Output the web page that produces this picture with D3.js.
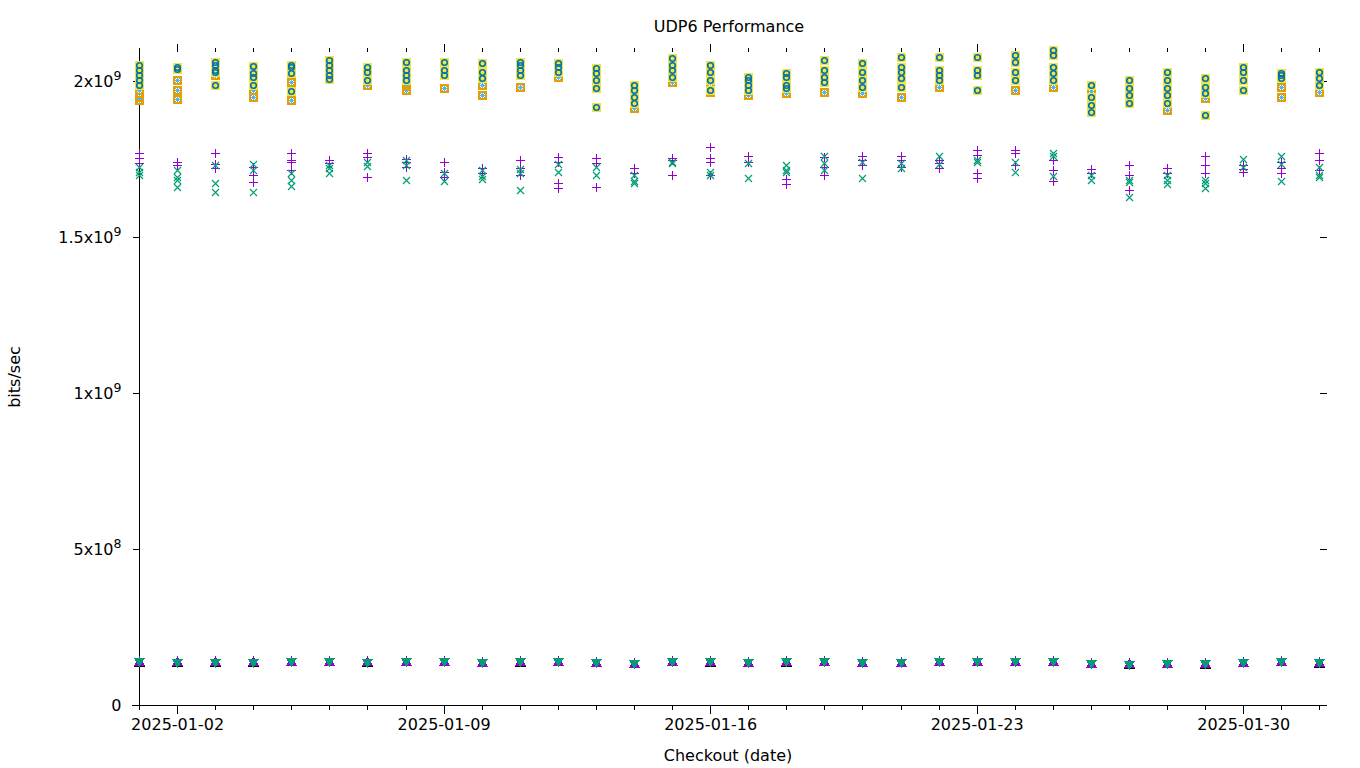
<!DOCTYPE html>
<html><head><meta charset="utf-8">
<script src="https://cdn.jsdelivr.net/npm/d3@7"></script>
<style>
body{margin:0;background:#fff;}
svg{display:block;font-family:"DejaVu Sans",sans-serif;}
</style></head><body>
<svg id="chart" width="1360" height="768"></svg>
<script>
const dates = ["2025-01-01","2025-01-02","2025-01-03","2025-01-04","2025-01-05","2025-01-06","2025-01-07","2025-01-08",
"2025-01-09","2025-01-10","2025-01-11","2025-01-12","2025-01-13","2025-01-14","2025-01-15","2025-01-16",
"2025-01-17","2025-01-18","2025-01-19","2025-01-20","2025-01-21","2025-01-22","2025-01-23","2025-01-24",
"2025-01-25","2025-01-26","2025-01-27","2025-01-28","2025-01-29","2025-01-30","2025-01-31","2025-02-01"];
const majorTicks = ["2025-01-02","2025-01-09","2025-01-16","2025-01-23","2025-01-30"];
const yTicks = [0, 5e8, 1e9, 1.5e9, 2e9];
const yTickLabels = [["0",""],["5x10","8"],["1x10","9"],["1.5x10","9"],["2x10","9"]];

// top group: yellow filled square + blue open circle (Gbit/s)
const topA = [[2.051,2.035,2.019,2.003,1.987],[2.045,2.038],[2.061,2.051,2.035,2.029,1.987],[2.048,2.026,2.013,1.987],
[2.051,2.045,2.026,1.968],[2.067,2.051,2.035,2.019,2.006],[2.045,2.029,2.003],[2.061,2.035,2.019,2.003],
[2.061,2.035,2.019],[2.058,2.029,2.010],[2.061,2.051,2.035,2.019],[2.058,2.045,2.029],
[2.042,2.026,2.003,1.978,1.917],[1.987,1.971,1.949,1.929],[2.074,2.051,2.035,2.013],[2.051,2.029,2.003,1.971],
[2.013,2.003,1.987,1.971],[2.026,2.013,1.987,1.978],[2.067,2.035,2.013,1.997],[2.058,2.029,2.003,1.981],
[2.077,2.045,2.029,2.010,1.981],[2.077,2.035,2.019,2.003],[2.077,2.035,2.019,1.971],[2.083,2.061,2.029,2.003],
[2.099,2.083,2.045,2.026,2.003],[1.987,1.949,1.923,1.901],[2.003,1.978,1.955,1.929],[2.029,2.003,1.978,1.955,1.929],
[2.010,1.981,1.961,1.891],[2.045,2.029,2.003,1.971],[2.019,2.026,2.010],[2.029,2.010,1.987]];
// top group: orange open square + light blue asterisk (Gbit/s)
const topB = [[1.971,1.949,1.939],[2.003,1.971,1.942],[2.019],[1.971,1.949],[1.997,1.939],[2.045],[1.987],[1.987,1.971],
[1.978],[1.987,1.955],[1.981],[2.013],[1.997],[1.913],[1.997,2.067],[1.981,1.965],
[1.955],[1.961],[1.965],[1.961],[1.949],[1.981],[2.029],[1.971],
[1.981],[1.968,1.929],[1.942],[1.907,1.945],[1.945],[2.035],[1.981,1.949],[1.965]];
// middle group: purple plus (Gbit/s)
const midPlus = [[1.769,1.753,1.737],[1.740,1.731],[1.769,1.734,1.721],[1.724,1.699,1.676],[1.769,1.747,1.740,1.715],
[1.747,1.737],[1.769,1.756,1.692],[1.750,1.740,1.724],[1.740,1.708,1.692],[1.721,1.705],[1.747,1.721,1.699],
[1.756,1.740,1.673,1.657],[1.753,1.737,1.660],[1.721,1.705],[1.753,1.747,1.699],[1.788,1.753,1.740,1.699],
[1.760,1.740],[1.686,1.670],[1.756,1.724,1.699],[1.760,1.747,1.731],[1.760,1.747,1.724],[1.747,1.737,1.721],
[1.779,1.763,1.705,1.689],[1.779,1.769,1.731],[1.747,1.715,1.679],[1.718,1.705],[1.731,1.699,1.651],
[1.721,1.705],[1.760,1.731,1.705],[1.731,1.718,1.708],[1.740,1.721,1.705],[1.769,1.747,1.715]];
// middle group: green cross (Gbit/s)
const midCross = [[1.724,1.708,1.699],[1.715,1.692,1.683,1.660],[1.731,1.673,1.644],[1.734,1.715,1.644],[1.705,1.683,1.663],
[1.731,1.721,1.705],[1.740,1.728],[1.747,1.731,1.683],[1.705,1.679],[1.715,1.695,1.686],[1.718,1.705,1.651],
[1.734,1.708],[1.724,1.699],[1.699,1.679,1.673],[1.740,1.737],[1.708,1.699],[1.737,1.689],[1.731,1.715,1.708],
[1.760,1.737,1.715],[1.740,1.689],[1.737,1.721],[1.760,1.734],[1.747,1.740],[1.740,1.708],[1.769,1.760,1.695],
[1.699,1.683],[1.683,1.676,1.628],[1.699,1.683,1.670],[1.683,1.673,1.657],[1.750,1.724],[1.760,1.734,1.679],[1.724,1.699,1.692]];
// bottom group (Gbit/s)
const lowBlack = [0.139,0.139,0.139,0.139,0.140,0.140,0.139,0.140,0.140,0.138,0.139,0.141,0.137,0.134,0.141,0.139,
0.138,0.139,0.141,0.138,0.138,0.141,0.141,0.141,0.141,0.135,0.133,0.134,0.133,0.138,0.141,0.136];
const lowPurple = [0.141,0.141,0.141,0.141,0.141,0.141,0.140,0.141,0.141,0.139,0.141,0.142,0.138,0.135,0.142,0.140,
0.139,0.140,0.142,0.139,0.139,0.142,0.142,0.142,0.142,0.136,0.134,0.135,0.135,0.139,0.142,0.137];
const lowGreen = [0.140,0.139,0.139,0.139,0.141,0.141,0.139,0.141,0.140,0.139,0.140,0.141,0.138,0.134,0.141,0.140,
0.138,0.140,0.141,0.139,0.139,0.141,0.141,0.141,0.142,0.135,0.133,0.134,0.134,0.139,0.141,0.138];

const GIGA = 1e9;
const parse = d3.utcParse("%Y-%m-%d");
const svg = d3.select("#chart");
const L = 139, R = 1327, B = 705, T = 48;
const FS = 16;
const x = d3.scaleUtc().domain([parse("2025-01-01"), new Date(Date.UTC(2025,1,1,4,50))]).range([L, R]);
const y = d3.scaleLinear().domain([0, 2.1e9]).range([B, 49.8]);

const allDays = dates.map(parse);
const majors = majorTicks.map(parse);
const g = svg.append("g").attr("shape-rendering","crispEdges");
g.append("g").attr("transform",`translate(0,${B+0.5})`)
  .call(d3.axisBottom(x).tickValues(allDays).tickSize(4).tickFormat("").tickSizeOuter(0))
  .call(s=>s.select(".domain").remove());
g.append("g").attr("transform",`translate(0,${B+0.5})`)
  .call(d3.axisBottom(x).tickValues(majors).tickSize(8).tickPadding(5).tickFormat(d3.utcFormat("%Y-%m-%d")).tickSizeOuter(0))
  .call(s=>s.select(".domain").remove())
  .selectAll("text").attr("font-size",FS).attr("font-family","DejaVu Sans").attr("fill","#000");
g.append("g").attr("transform",`translate(0,52)`)
  .call(d3.axisTop(x).tickValues(allDays).tickSize(4).tickFormat("").tickSizeOuter(0))
  .call(s=>s.select(".domain").remove());
g.append("g").attr("transform",`translate(0,52)`)
  .call(d3.axisTop(x).tickValues(majors).tickSize(8).tickFormat("").tickSizeOuter(0))
  .call(s=>s.select(".domain").remove());
g.append("line").attr("x1",132).attr("x2",R).attr("y1",B+0.5).attr("y2",B+0.5).attr("stroke","#000");
g.append("line").attr("x1",L+0.5).attr("x2",L+0.5).attr("y1",T).attr("y2",B).attr("stroke","#000");
const yl = g.append("g").attr("transform",`translate(${L+0.5},0)`)
  .call(d3.axisLeft(y).tickValues(yTicks).tickSize(7).tickPadding(11).tickFormat(""))
  .call(s=>s.select(".domain").remove());
yl.selectAll(".tick text").each(function(d,i){
  const t = d3.select(this).attr("font-size",FS).attr("font-family","DejaVu Sans").attr("fill","#000").attr("dy","0.35em");
  t.append("tspan").text(yTickLabels[i][0]);
  if (yTickLabels[i][1]) t.append("tspan").attr("font-size",12.5).attr("dy","-0.6em").text(yTickLabels[i][1]);
});
g.append("g").attr("transform",`translate(${R},0)`)
  .call(d3.axisLeft(y).tickValues(yTicks).tickSize(7).tickFormat(""))
  .call(s=>s.select(".domain").remove());

svg.append("text").attr("x",729).attr("y",32).attr("text-anchor","middle").attr("font-size",FS).text("UDP6 Performance");
svg.append("text").attr("x",728).attr("y",761).attr("text-anchor","middle").attr("font-size",FS).text("Checkout (date)");
svg.append("text").attr("transform","translate(20,377) rotate(-90)").attr("text-anchor","middle").attr("font-size",FS).text("bits/sec");

const pts = svg.append("g").attr("shape-rendering","crispEdges");
function flat(arr){ const out=[]; arr.forEach((vals,i)=>vals.forEach(v=>out.push({d:allDays[i], v:v*GIGA}))); return out; }
function single(arr){ return arr.map((v,i)=>({d:allDays[i], v:v*GIGA})); }
const X = p=>Math.round(x(p.d))+0.5, Y = p=>Math.round(y(p.v))+0.5;

function plus(data,color){
  pts.append("g").selectAll("path").data(data).join("path")
    .attr("d",p=>`M${X(p)-4.5},${Y(p)}H${X(p)+4.5}M${X(p)},${Y(p)-4.5}V${Y(p)+4.5}`)
    .attr("stroke",color).attr("stroke-width",1.5).attr("fill","none");
}
function cross(data,color){
  pts.append("g").selectAll("path").data(data).join("path")
    .attr("d",p=>`M${X(p)-3.5},${Y(p)-3.5}L${X(p)+3.5},${Y(p)+3.5}M${X(p)-3.5},${Y(p)+3.5}L${X(p)+3.5},${Y(p)-3.5}`)
    .attr("stroke",color).attr("stroke-width",1.2).attr("fill","none").attr("shape-rendering","auto");
}
function star(data,color){
  pts.append("g").selectAll("path").data(data).join("path")
    .attr("d",p=>`M${X(p)-3},${Y(p)}H${X(p)+3}M${X(p)},${Y(p)-3}V${Y(p)+3}M${X(p)-2.5},${Y(p)-2.5}L${X(p)+2.5},${Y(p)+2.5}M${X(p)-2.5},${Y(p)+2.5}L${X(p)+2.5},${Y(p)-2.5}`)
    .attr("stroke",color).attr("stroke-width",1).attr("fill","none");
}
function square(data,color,filled,s){
  pts.append("g").selectAll("rect").data(data).join("rect")
    .attr("x",p=>X(p)-s).attr("y",p=>Y(p)-s).attr("width",2*s).attr("height",2*s)
    .attr("fill",filled?color:"none").attr("stroke",color).attr("stroke-width",1.5);
}
function circle(data,color){
  pts.append("g").selectAll("circle").data(data).join("circle")
    .attr("cx",X).attr("cy",Y).attr("r",2.8)
    .attr("fill","none").attr("stroke",color).attr("stroke-width",1.6).attr("shape-rendering","auto");
}
function tri(data,color,filled,down){
  pts.append("g").selectAll("path").data(data).join("path")
    .attr("d",p=>{const cx=X(p), cy=Y(p); return down
      ? `M${cx-4.5},${cy-3}L${cx+4.5},${cy-3}L${cx},${cy+4.5}Z`
      : `M${cx-4.5},${cy+3.5}L${cx+4.5},${cy+3.5}L${cx},${cy-4.5}Z`;})
    .attr("fill",filled?color:"none").attr("stroke",color).attr("stroke-width",1.2);
}

plus(flat(midPlus),"#9400d3");
cross(flat(midCross),"#009e73");
star(flat(topB),"#56b4e9");
square(flat(topB),"#e69f00",false,3.5);
square(flat(topA),"#f0e442",true,4);
circle(flat(topA),"#0072b2");
tri(single(lowBlack),"#000000",false,false);
tri(single(lowPurple),"#9400d3",true,false);
tri(single(lowGreen),"#009e73",true,true);
</script>
</body></html>
